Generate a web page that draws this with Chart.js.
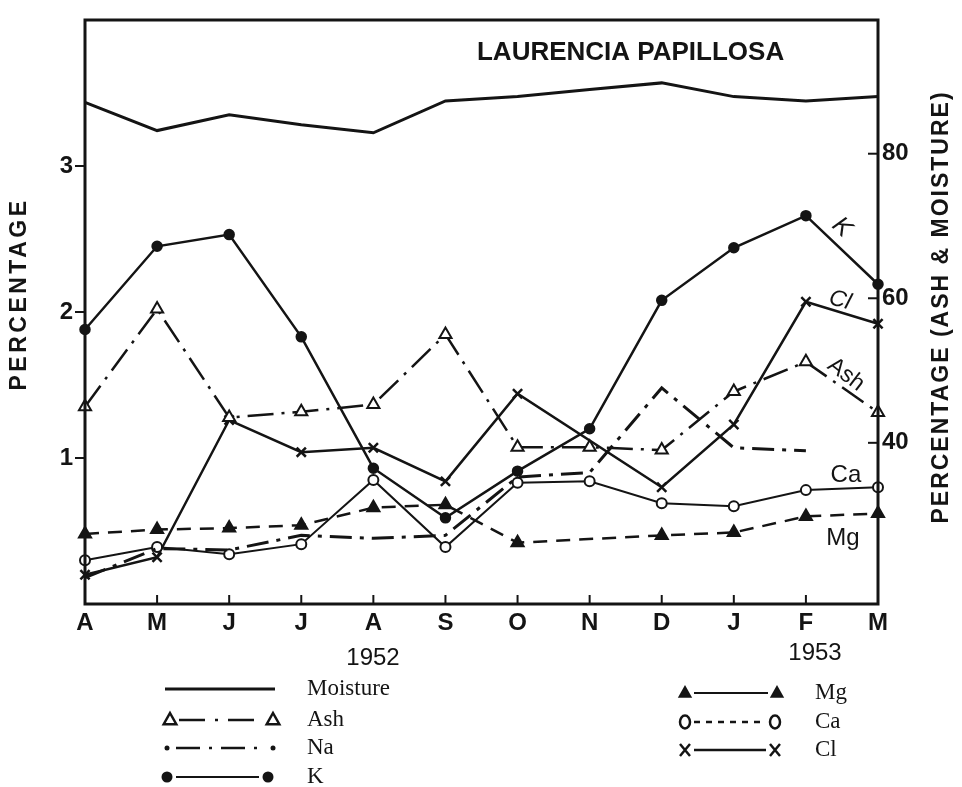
<!DOCTYPE html>
<html><head><meta charset="utf-8">
<script src="https://cdn.jsdelivr.net/npm/chart.js@4/dist/chart.umd.min.js"></script>
<style>html,body{margin:0;padding:0;background:#fff}#wrap{width:962px;height:787px;position:relative}</style>
</head><body><div id="wrap"><canvas id="c" width="962" height="787"></canvas></div>
<script>
// ---- data ----
const months = ['A','M','J','J','A','S','O','N','D','J','F','M'];
const moisture = [87.1,83.2,85.4,84.0,82.9,87.3,87.9,88.9,89.8,87.9,87.3,87.9];
const ash = [45.0,58.5,43.5,44.3,45.3,55.0,39.4,39.4,39.0,47.1,51.2,44.2];
const na = [0.18,0.38,0.37,0.47,0.45,0.47,0.87,0.90,1.48,1.07,1.05,null];
const k = [1.88,2.45,2.53,1.83,0.93,0.59,0.91,1.20,2.08,2.44,2.66,2.19];
const mg = [0.48,0.51,0.52,0.54,0.66,0.68,0.42,null,0.47,0.49,0.60,0.62];
const ca = [0.30,0.39,0.34,0.41,0.85,0.39,0.83,0.84,0.69,0.67,0.78,0.80];
const cl = [0.20,0.32,1.26,1.04,1.07,0.84,1.44,null,0.80,1.23,2.07,1.92];
const leftTicks = [1,2,3];
const rightTicks = [40,60,80];
const years = ['1952','1953'];
const title = 'LAURENCIA PAPILLOSA';
const leftTitle = 'PERCENTAGE';
const rightTitle = 'PERCENTAGE (ASH & MOISTURE)';

const INK = '#141414';
const SANS = '"Liberation Sans", Arial, sans-serif';
const SERIF = '"Liberation Serif", "Times New Roman", serif';

function tri(ctx,x,y,r,fill){
  ctx.beginPath();
  ctx.moveTo(x,y-r); ctx.lineTo(x+r*0.9,y+r*0.6); ctx.lineTo(x-r*0.9,y+r*0.6); ctx.closePath();
  if(fill){ctx.fillStyle=INK;ctx.fill();} else {ctx.fillStyle='#fff';ctx.fill();ctx.stroke();}
}
function marker(ctx,kind,x,y){
  ctx.save(); ctx.strokeStyle=INK; ctx.fillStyle=INK; ctx.setLineDash([]);
  if(kind==='triOpen'){ctx.lineWidth=2.5;tri(ctx,x,y,7,false);}
  else if(kind==='triFill'){tri(ctx,x,y,8,true);}
  else if(kind==='dot'){ctx.beginPath();ctx.arc(x,y,2.5,0,Math.PI*2);ctx.fill();}
  else if(kind==='circFill'){ctx.beginPath();ctx.arc(x,y,5.5,0,Math.PI*2);ctx.fill();}
  else if(kind==='circOpen'){ctx.lineWidth=2.5;ctx.beginPath();ctx.ellipse(x,y,5,6.5,0,0,Math.PI*2);ctx.stroke();}
  else if(kind==='x'){ctx.lineWidth=2.5;ctx.beginPath();ctx.moveTo(x-5,y-6);ctx.lineTo(x+5,y+6);ctx.moveTo(x+5,y-6);ctx.lineTo(x-5,y+6);ctx.stroke();}
  ctx.restore();
}
function legendRow(ctx,x1,x2,y,kind,dash,lw,text,tx){
  const pad = kind ? 9 : 0;
  ctx.save(); ctx.strokeStyle=INK; ctx.lineWidth=lw; ctx.setLineDash(dash);
  ctx.beginPath(); ctx.moveTo(x1+pad,y); ctx.lineTo(x2-pad,y); ctx.stroke(); ctx.restore();
  if(kind){marker(ctx,kind,x1,y);marker(ctx,kind,x2,y);}
  ctx.save(); ctx.fillStyle=INK; ctx.font='23px '+SERIF; ctx.textBaseline='middle'; ctx.textAlign='left';
  ctx.fillText(text,tx,y); ctx.restore();
}
function rotText(ctx,text,x,y,ang,font,spacing){
  ctx.save(); ctx.translate(x,y); ctx.rotate(ang); ctx.font=font; ctx.fillStyle=INK;
  if(spacing) ctx.letterSpacing=spacing;
  ctx.textAlign='center'; ctx.textBaseline='middle'; ctx.fillText(text,0,0); ctx.restore();
}

const deco = {
  id:'deco',
  afterDraw(chart){
    const {ctx, chartArea:a, scales} = chart;
    const xs = scales.x, yl = scales.y, yr = scales.y1;
    ctx.save();
    ctx.strokeStyle=INK; ctx.lineWidth=3; ctx.setLineDash([]);
    ctx.strokeRect(a.left,a.top,a.right-a.left,a.bottom-a.top);
    ctx.lineWidth=2;
    months.forEach((m,i)=>{const px=xs.getPixelForValue(i);ctx.beginPath();ctx.moveTo(px,a.bottom);ctx.lineTo(px,a.bottom-9);ctx.stroke();});
    rightTicks.forEach(v=>{const py=yr.getPixelForValue(v);ctx.beginPath();ctx.moveTo(a.right-10,py);ctx.lineTo(a.right,py);ctx.stroke();});
    ctx.restore();
    const W=a.right-a.left;
    // title inside plot
    rotText(ctx,title,a.left+W*0.688,a.top+33,0,'bold 26px '+SANS);
    // axis titles
    rotText(ctx,leftTitle,20,294,-Math.PI/2,'bold 23px '+SANS,'3.5px');
    rotText(ctx,rightTitle,942,307,-Math.PI/2,'bold 23px '+SANS,'2px');
    // years
    rotText(ctx,years[0],373,658,0,'24px '+SANS);
    rotText(ctx,years[1],815,653,0,'24px '+SANS);
    // series labels, anchored between F and M
    const lx=(xs.getPixelForValue(10)+xs.getPixelForValue(11))/2;
    rotText(ctx,'K',lx,yl.getPixelForValue(2.58),0.75,'italic 25px '+SANS);
    rotText(ctx,'Cl',lx-2,yl.getPixelForValue(2.08),0.28,'italic 23px '+SANS);
    rotText(ctx,'Ash',lx+4,yl.getPixelForValue(1.57),0.65,'23px '+SANS);
    rotText(ctx,'Ca',lx+4,yl.getPixelForValue(0.88),0,'24px '+SANS);
    rotText(ctx,'Mg',lx+1,yl.getPixelForValue(0.45),0,'24px '+SANS);
    // legend
    legendRow(ctx,165,275,689,null,[],3,'Moisture',307);
    legendRow(ctx,170,273,720,'triOpen',[26,10,3,10],2.5,'Ash',307);
    legendRow(ctx,167,273,748,'dot',[24,9,3,9],2.5,'Na',307);
    legendRow(ctx,167,268,777,'circFill',[],2,'K',307);
    legendRow(ctx,685,777,693,'triFill',[],2,'Mg',815);
    legendRow(ctx,685,775,722,'circOpen',[6,6],2.5,'Ca',815);
    legendRow(ctx,685,775,750,'x',[],2.5,'Cl',815);
  }
};

const tickFont = {family:SANS, weight:'bold', size:24};
new Chart(document.getElementById('c'), {
  type:'line',
  data:{
    labels: months,
    datasets:[
      {label:'Moisture', data:moisture, yAxisID:'y1', borderColor:INK, borderWidth:3, pointRadius:0, tension:0},
      {label:'Ash', data:ash, yAxisID:'y1', borderColor:INK, borderWidth:2.5, borderDash:[26,8,3,8], pointStyle:'triangle', pointRadius:7, pointBackgroundColor:'#fff', pointBorderColor:INK, pointBorderWidth:2, tension:0},
      {label:'Na', data:na, yAxisID:'y', borderColor:INK, borderWidth:3, borderDash:[22,8,4,8], pointRadius:0, spanGaps:false, tension:0},
      {label:'K', data:k, yAxisID:'y', borderColor:INK, borderWidth:2.5, pointStyle:'circle', pointRadius:4.5, pointBackgroundColor:INK, pointBorderColor:INK, tension:0},
      {label:'Mg', data:mg, yAxisID:'y', borderColor:INK, borderWidth:2.5, borderDash:[14,9], pointStyle:'triangle', pointRadius:6.5, pointBackgroundColor:INK, pointBorderColor:INK, spanGaps:true, tension:0},
      {label:'Ca', data:ca, yAxisID:'y', borderColor:INK, borderWidth:2, pointStyle:'circle', pointRadius:5, pointBackgroundColor:'#fff', pointBorderColor:INK, pointBorderWidth:2, tension:0},
      {label:'Cl', data:cl, yAxisID:'y', borderColor:INK, borderWidth:2.5, pointStyle:'crossRot', pointRadius:6.5, pointBorderColor:INK, pointBorderWidth:2.5, spanGaps:true, tension:0}
    ]
  },
  options:{
    responsive:false, animation:false, devicePixelRatio:1,
    layout:{padding:{top:20,left:0,right:0,bottom:0}},
    plugins:{legend:{display:false}, title:{display:false}, tooltip:{enabled:false}},
    scales:{
      x:{type:'category', offset:false, border:{display:false},
         grid:{display:false, drawTicks:false},
         ticks:{font:tickFont, color:INK, padding:5, maxRotation:0, autoSkip:false},
         afterFit(s){s.height=183;}},
      y:{position:'left', min:0, max:4, border:{display:false},
         grid:{drawOnChartArea:false, drawTicks:true, tickLength:10, color:INK, lineWidth:2},
         ticks:{font:tickFont, color:INK, padding:2},
         afterBuildTicks(s){s.ticks=leftTicks.map(v=>({value:v}));},
         afterFit(s){s.width=85;}},
      y1:{position:'right', min:17.7, max:98.5, border:{display:false},
         grid:{display:false, drawTicks:false},
         ticks:{font:tickFont, color:INK, padding:4},
         afterBuildTicks(s){s.ticks=rightTicks.map(v=>({value:v}));},
         afterFit(s){s.width=84;}}
    }
  },
  plugins:[deco]
});
</script></body></html>
